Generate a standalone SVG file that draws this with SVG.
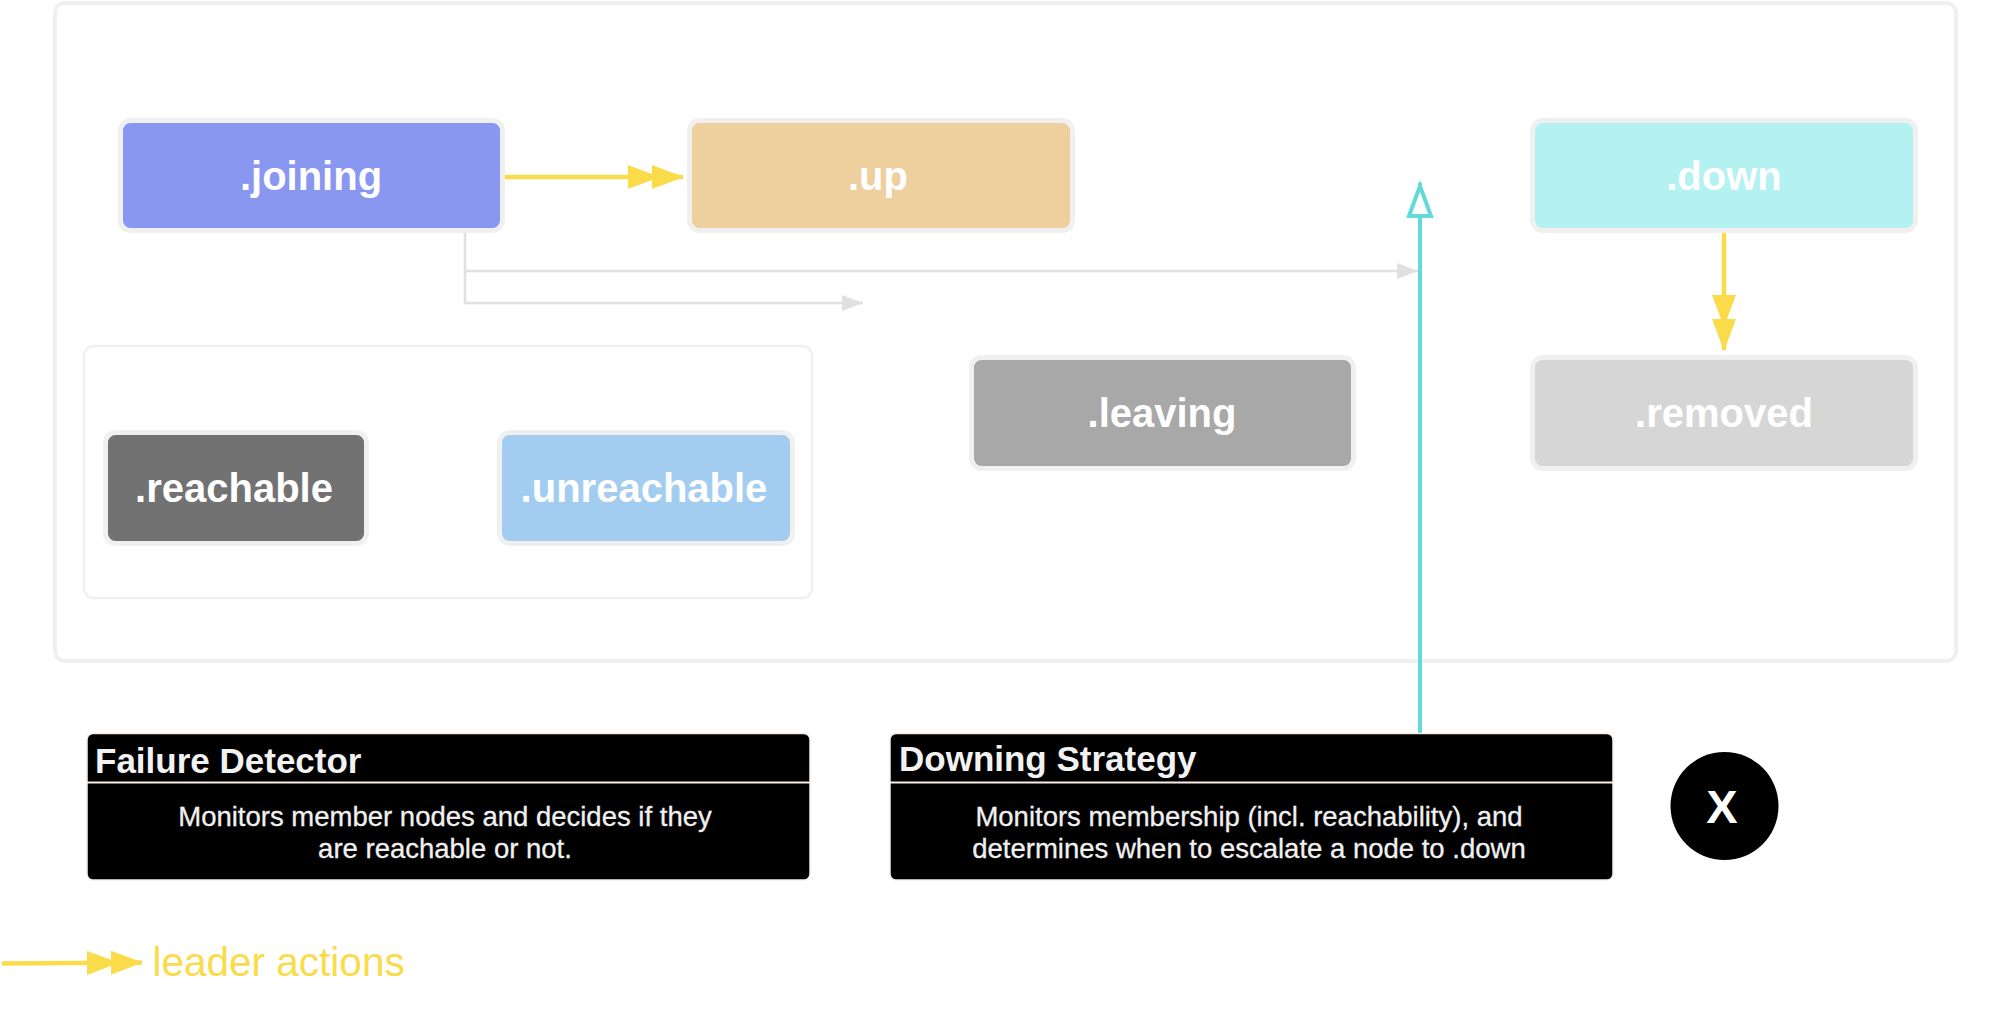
<svg xmlns="http://www.w3.org/2000/svg" width="2004" height="1016" viewBox="0 0 2004 1016">
<style>
.frame{fill:#fff;stroke:#f0f0f0;stroke-width:4}
.state{stroke:#f0f0f0;stroke-width:5}
.lbl{font-family:"Liberation Sans",Arial,sans-serif;font-weight:700;font-size:40px;fill:#fff;text-anchor:middle}
.panel{fill:#000;stroke:#f8eee6;stroke-width:1.5}
.title{font-family:"Liberation Sans",Arial,sans-serif;font-weight:700;font-size:35px;fill:#f2f2f2}
.body{font-family:"Liberation Sans",Arial,sans-serif;font-size:27.500px;fill:#f0f0f0;text-anchor:middle;stroke:#f0f0f0;stroke-width:.3}
.leader{stroke:#fadb4a;stroke-width:4.500;fill:none}
.gray{stroke:#e0e0e0;stroke-width:2.600;fill:none}
</style>
<defs>
<marker id="dbl" markerUnits="userSpaceOnUse" markerWidth="56" markerHeight="26" viewBox="0 0 56 26" refX="55" refY="13" orient="auto"><path d="M0 1L32 13L0 25ZM24 1L56 13L24 25Z" fill="#fadb4a"/></marker>
<marker id="grayHead" markerUnits="userSpaceOnUse" markerWidth="22" markerHeight="18" viewBox="0 0 22 18" refX="21" refY="9" orient="auto"><path d="M0 1L21 9L0 17Z" fill="#e0e0e0"/></marker>
<marker id="openHead" markerUnits="userSpaceOnUse" markerWidth="38" markerHeight="28" viewBox="0 0 38 28" refX="35" refY="14" orient="auto"><path d="M2 3L32 14L2 25Z" fill="#fff" stroke="#62dada" stroke-width="4"/></marker>
</defs>
<rect id="cluster" class="frame" x="55" y="3" width="1901" height="658" rx="10"/>
<rect id="reachability" class="frame" x="84" y="346" width="728" height="252" rx="10" style="stroke-width:2.500"/>
<g id="connectors">
<path class="leader" d="M505 177H683" marker-end="url(#dbl)"/>
<path class="leader" d="M1724 233V350" marker-end="url(#dbl)"/>
<path class="gray" d="M465 232V303H863" marker-end="url(#grayHead)"/>
<path class="gray" d="M465 271H1418" marker-end="url(#grayHead)"/>
<path d="M1420 734V183" stroke="#62dada" stroke-width="4" fill="none" marker-end="url(#openHead)"/>
<path class="leader" d="M2 963.500L142 962.500" marker-end="url(#dbl)"/>
</g>
<g id="joining"><rect class="state" x="120.500" y="120.500" width="382" height="110" rx="10" fill="#8997f0"/><text class="lbl" x="311" y="190">.joining</text></g>
<g id="up"><rect class="state" x="689.500" y="120.500" width="383" height="110" rx="10" fill="#eecf9e"/><text class="lbl" x="878" y="190">.up</text></g>
<g id="down"><rect class="state" x="1532.500" y="120.500" width="383" height="110" rx="10" fill="#b4f1f1"/><text class="lbl" x="1724" y="190">.down</text></g>
<g id="removed"><rect class="state" x="1532.500" y="357.500" width="383" height="111" rx="10" fill="#d6d6d6"/><text class="lbl" x="1724" y="427">.removed</text></g>
<g id="leaving"><rect class="state" x="971.500" y="357.500" width="382" height="111" rx="10" fill="#a8a8a8"/><text class="lbl" x="1162" y="427">.leaving</text></g>
<g id="reachable"><rect class="state" x="105.500" y="432.500" width="261" height="111" rx="10" fill="#727272"/><text class="lbl" x="234" y="502">.reachable</text></g>
<g id="unreachable"><rect class="state" x="499.500" y="432.500" width="293" height="111" rx="10" fill="#a2cdf0"/><text class="lbl" x="644" y="502">.unreachable</text></g>
<g id="failure-detector"><rect class="panel" x="87" y="733.500" width="723" height="146.500" rx="6"/><path d="M87 782.500H810" stroke="#f8eee6" stroke-width="2"/><text class="title" x="95" y="773">Failure Detector</text><text class="body" x="445" y="826">Monitors member nodes and decides if they</text><text class="body" x="445" y="858">are reachable or not.</text></g>
<g id="downing-strategy"><rect class="panel" x="890" y="733.500" width="723" height="146.500" rx="6"/><path d="M890 782.500H1613" stroke="#f8eee6" stroke-width="2"/><text class="title" x="899" y="771">Downing Strategy</text><text class="body" x="1249" y="826">Monitors membership (incl. reachability), and</text><text class="body" x="1249" y="858">determines when to escalate a node to .down</text></g>
<g id="x"><circle cx="1724.500" cy="806" r="54" fill="#000"/><text x="1722" y="823" font-family="'Liberation Sans',Arial,sans-serif" font-weight="700" font-size="47" fill="#fff" text-anchor="middle">X</text></g>
<g id="legend"><text x="152.500" y="976" font-family="'Liberation Sans',Arial,sans-serif" font-size="40.500" fill="#fadb4a">leader actions</text></g>
</svg>
